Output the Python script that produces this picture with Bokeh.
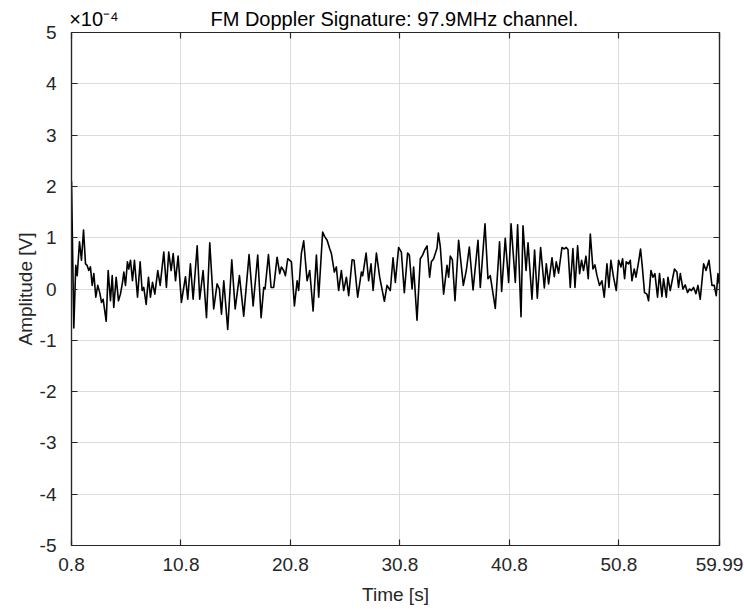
from bokeh.plotting import figure
from bokeh.models import (Range1d, FixedTicker, LinearAxis, CustomJSTickFormatter)
from bokeh.embed import file_html
from bokeh.resources import INLINE

# ---------------- data (amplitude in units of 1e-4 V) ----------------
t_s = [0.80, 1.01, 1.19, 1.32, 1.53, 1.71, 1.90, 2.08, 2.23, 2.38, 2.53, 2.69, 2.84, 3.02, 3.20,
       3.38, 3.54, 3.69, 3.97, 4.15, 4.36, 4.52, 4.66, 4.88, 5.09, 5.27, 5.46, 5.58, 5.73, 5.91,
       6.03, 6.19, 6.37, 6.55, 6.83, 7.07, 7.25, 7.40, 7.62, 7.83, 8.01, 8.20, 8.41, 8.68, 8.90,
       9.23, 9.47, 9.68, 9.90, 10.09, 10.30, 10.54, 10.84, 11.21, 11.42, 11.66, 11.91, 12.28, 12.51,
       12.82, 13.13, 13.43, 13.79, 14.10, 14.31, 14.50, 14.71, 15.07, 15.44, 15.75, 16.14, 16.53,
       17.02, 17.39, 17.81, 18.12, 18.36, 18.48, 18.79, 19.03, 19.27, 19.58, 19.82, 19.97, 20.18,
       20.34, 20.55, 20.89, 21.16, 21.41, 21.55, 21.80, 22.01, 22.32, 22.56, 22.87, 23.17, 23.38,
       23.74, 23.93, 24.15, 24.38, 24.54, 24.81, 24.99, 25.20, 25.45, 25.66, 25.91, 26.12, 26.43,
       26.61, 26.94, 27.28, 27.40, 27.71, 27.94, 28.16, 28.35, 28.65, 28.95, 29.38, 29.62, 29.92,
       30.17, 30.38, 30.68, 30.93, 31.20, 31.50, 31.66, 31.91, 32.05, 32.36, 32.66, 32.87, 33.06,
       33.28, 33.51, 33.67, 33.88, 34.19, 34.31, 34.49, 34.79, 35.10, 35.25, 35.40, 35.59, 35.83,
       36.16, 36.59, 36.86, 37.14, 37.48, 37.93, 38.14, 38.57, 38.84, 39.05, 39.51, 39.90, 40.09,
       40.42, 40.73, 40.95, 41.34, 41.55, 41.86, 42.04, 42.32, 42.50, 42.86, 43.10, 43.35, 43.65,
       43.99, 44.17, 44.38, 44.69, 44.90, 45.08, 45.29, 45.60, 45.81, 45.99, 46.15, 46.36, 46.60,
       46.79, 47.03, 47.21, 47.39, 47.57, 47.79, 48.00, 48.19, 48.43, 48.61, 48.80, 49.03, 49.25,
       49.46, 49.71, 49.89, 50.07, 50.31, 50.56, 50.77, 50.99, 51.14, 51.32, 51.47, 51.68, 51.84,
       51.99, 52.20, 52.36, 52.60, 52.78, 52.94, 53.14, 53.36, 53.51, 53.73, 53.91, 54.09, 54.33,
       54.51, 54.73, 54.88, 55.13, 55.28, 55.49, 55.70, 55.88, 56.10, 56.25, 56.41, 56.65, 56.86,
       57.07, 57.25, 57.43, 57.62, 57.84, 58.02, 58.23, 58.54, 58.76, 59.03, 59.30, 59.51, 59.69,
       59.85, 59.97]
amp_e4 = [2.10, -0.76, 0.46, 0.26, 0.92, 0.56, 1.15, 0.49, 0.46, 0.36, 0.43, 0.07, 0.30, -0.16, 0.07,
          -0.07, -0.26, -0.20, -0.63, 0.36, -0.23, 0.26, -0.36, 0.23, -0.23, -0.10, 0.13, 0.33, 0.07, 0.53,
          0.39, 0.56, 0.16, 0.56, -0.16, 0.53, -0.03, 0.03, -0.30, 0.23, -0.16, 0.13, -0.10, 0.36, 0.07,
          0.72, 0.03, 0.72, 0.36, 0.69, 0.16, 0.64, -0.26, 0.24, -0.20, 0.49, -0.20, 0.84, -0.20,
          0.36, -0.56, 0.90, -0.39, 0.10, 0.00, -0.49, 0.16, -0.79, 0.57, -0.39, 0.26, -0.53,
          0.67, -0.33, 0.66, -0.56, 0.03, 0.00, 0.67, 0.03, 0.03, 0.62, 0.30, 0.43, 0.36,
          0.26, 0.59, 0.53, -0.33, 0.16, -0.03, 0.70, 0.94, 0.16, 0.36, -0.43, 0.66, -0.16,
          1.11, 1.02, 0.95, 0.79, 0.69, 0.33, 0.43, -0.03, 0.36, -0.03, 0.23, -0.13, 0.57,
          0.56, -0.16, 0.33, 0.26, 0.70, 0.16, 0.49, -0.03, 0.70, 0.23, -0.24, 0.07, -0.03,
          0.61, 0.13, 0.81, 0.72, -0.07, 0.70, 0.66, 0.00, 0.43, -0.61, 0.59, 0.66, 0.76,
          0.84, 0.23, 0.53, 0.59, 0.80, 1.09, 0.82, -0.10, 0.46, 0.23, 0.64, 0.57, -0.23,
          0.95, 0.07, 0.36, 0.82, -0.02, 0.95, 0.03, 1.27, 0.20, 0.26, -0.38, 0.92, -0.05,
          0.99, 0.13, 1.27, 0.13, 1.25, -0.54, 1.23, 0.36, 0.90, -0.20, 0.76, -0.18, 0.81,
          0.02, 0.49, 0.10, 0.61, 0.24, 0.53, 0.31, 0.81, 0.78, 0.81, 0.77, 0.03, 0.79,
          0.03, 0.84, 0.30, 0.56, 0.36, 0.64, 0.20, 1.07, 0.39, 0.47, 0.26, 0.07, 0.16,
          -0.16, 0.49, 0.03, 0.56, 0.23, -0.03, 0.56, 0.43, 0.59, 0.20, 0.53, 0.49, 0.56,
          0.16, 0.39, 0.23, 0.53, 0.78, 0.43, -0.07, -0.10, -0.23, 0.36, 0.23, 0.30, -0.16,
          0.30, -0.15, 0.20, -0.16, 0.23, -0.03, 0.20, 0.39, 0.33, 0.03, 0.30, 0.00, 0.08,
          -0.07, 0.00, -0.03, 0.03, -0.09, 0.07, -0.20, 0.49, 0.36, 0.56, 0.07, 0.07, -0.13,
          0.30, 0.10]

x_ticks = [0.8, 10.8, 20.8, 30.8, 40.8, 50.8, 59.99]
x_tick_labels = ["0.8", "10.8", "20.8", "30.8", "40.8", "50.8", "59.99"]
y_ticks = [-5, -4, -3, -2, -1, 0, 1, 2, 3, 4, 5]
y_tick_labels = ["-5", "-4", "-3", "-2", "-1", "0", "1", "2", "3", "4", "5"]

title_text = "FM Doppler Signature: 97.9MHz channel."
exponent_text = "\u00d710\u207b\u2074"
x_label = "Time [s]"
y_label = "Amplitude [V]"

# horizontal anchor positions (in seconds) for the header texts
exponent_at = 2.85
title_at = 30.3

FONT = "Liberation Sans"
DARK = "#262626"
TXT = "#262626"

p = figure(width=744, height=609, output_backend="svg", toolbar_location=None,
           x_range=Range1d(0.8, 59.99), y_range=Range1d(-5, 5),
           min_border_left=71, min_border_right=25, min_border_top=32, min_border_bottom=64,
           background_fill_color="white", border_fill_color="white")
p.title.text = ""
p.outline_line_color = DARK
p.outline_line_width = 1.2

p.line(t_s, amp_e4, line_color="black", line_width=1.6, line_join="round")

for ax in (p.xaxis[0], p.yaxis[0]):
    ax.major_tick_in = 6
    ax.major_tick_out = 0
    ax.minor_tick_in = 0
    ax.minor_tick_out = 0
    ax.axis_line_color = DARK
    ax.axis_line_width = 1.2
    ax.major_tick_line_color = DARK
    ax.major_tick_line_width = 1.2
    ax.major_label_text_font = FONT
    ax.major_label_text_font_size = "19px"
    ax.major_label_text_color = TXT
    ax.axis_label_text_font = FONT
    ax.axis_label_text_font_size = "19px"
    ax.axis_label_text_font_style = "normal"
    ax.axis_label_text_color = TXT

p.xaxis[0].ticker = FixedTicker(ticks=x_ticks, minor_ticks=[])
p.xaxis[0].major_label_overrides = {v: s for v, s in zip(x_ticks, x_tick_labels)}
p.xaxis[0].axis_label = x_label
p.xaxis[0].major_label_standoff = 12
p.xaxis[0].axis_label_standoff = 10

p.yaxis[0].ticker = FixedTicker(ticks=y_ticks, minor_ticks=[])
p.yaxis[0].major_label_overrides = {v: s for v, s in zip(y_ticks, y_tick_labels)}
p.yaxis[0].axis_label = y_label
p.yaxis[0].major_label_standoff = 15
p.yaxis[0].axis_label_standoff = 1

blank = CustomJSTickFormatter(code="return ''")
top_ax = LinearAxis(ticker=FixedTicker(ticks=x_ticks, minor_ticks=[]), formatter=blank,
                    major_tick_in=6, major_tick_out=0, minor_tick_in=0, minor_tick_out=0,
                    axis_line_color=DARK, axis_line_width=1.2,
                    major_tick_line_color=DARK, major_tick_line_width=1.2,
                    major_label_standoff=0, major_label_text_font_size="1px")
right_ax = LinearAxis(ticker=FixedTicker(ticks=y_ticks, minor_ticks=[]), formatter=blank,
                      major_tick_in=6, major_tick_out=0, minor_tick_in=0, minor_tick_out=0,
                      axis_line_color=DARK, axis_line_width=1.2,
                      major_tick_line_color=DARK, major_tick_line_width=1.2,
                      major_label_standoff=0, major_label_text_font_size="1px")
head_ticks = [exponent_at, title_at]
head_ax = LinearAxis(ticker=FixedTicker(ticks=head_ticks, minor_ticks=[]),
                     major_label_overrides={exponent_at: exponent_text, title_at: title_text},
                     major_tick_in=0, major_tick_out=0, minor_tick_in=0, minor_tick_out=0,
                     axis_line_color=None, major_tick_line_color=None,
                     major_label_standoff=3, major_label_text_font=FONT,
                     major_label_text_font_size="20px", major_label_text_color="black")
p.add_layout(top_ax, "above")
p.add_layout(head_ax, "above")
p.add_layout(right_ax, "right")

p.xgrid.ticker = FixedTicker(ticks=x_ticks)
p.ygrid.ticker = FixedTicker(ticks=y_ticks)
p.grid.grid_line_color = "#dcdcdc"
p.grid.grid_line_width = 1

open("out.html", "w").write(file_html(p, INLINE))
